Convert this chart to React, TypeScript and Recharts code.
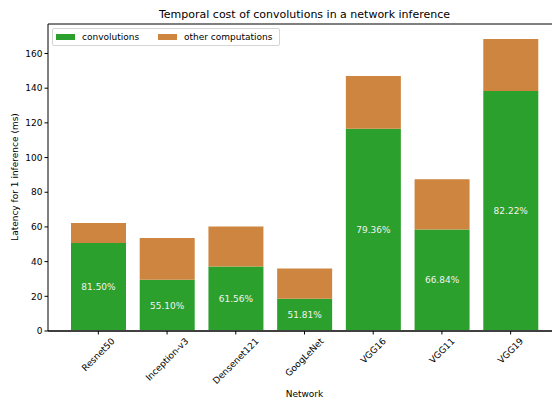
import { Bar, BarChart, LabelList, ReferenceLine, XAxis, YAxis } from "recharts";

const networks = [
  "Resnet50",
  "Inception-v3",
  "Densenet121",
  "GoogLeNet",
  "VGG16",
  "VGG11",
  "VGG19",
];
// total latency per inference (ms)
const totalLatency = [62.2, 53.6, 60.3, 36.0, 147.0, 87.5, 168.3];
// share of that latency spent in convolutions (%)
const convShare = [81.5, 55.1, 61.56, 51.81, 79.36, 66.84, 82.22];
const yTicks = [0, 20, 40, 60, 80, 100, 120, 140, 160];

const data = networks.map((name, i) => {
  const conv = (totalLatency[i] * convShare[i]) / 100;
  return {
    name,
    conv,
    other: totalLatency[i] - conv,
    share: `${convShare[i].toFixed(2)}%`,
  };
});

const FONT = "'DejaVu Sans', sans-serif";
const Y_MAX = 177;

let ctx: CanvasRenderingContext2D | null = null;
function textWidth(s: string, size: number) {
  if (!ctx) ctx = document.createElement("canvas").getContext("2d");
  if (!ctx) return s.length * size * 0.6;
  ctx.font = `${size}px 'DejaVu Sans'`;
  return ctx.measureText(s).width;
}

// rotated 45°, centred horizontally under the tick like matplotlib's ha="center"
function NetworkTick({ x, y, payload }: any) {
  const w = textWidth(payload.value, 9);
  const half = ((w + 9) * Math.SQRT1_2) / 2;
  const cy = y + half;
  return (
    <text
      x={x}
      y={cy}
      transform={`rotate(-45 ${x} ${cy})`}
      textAnchor="middle"
      dominantBaseline="central"
      fontSize={9}
      fontFamily={FONT}
      fill="#000"
    >
      {payload.value}
    </text>
  );
}

function LegendBox() {
  const item = (color: string, label: string, left: number) => (
    <div style={{ position: "absolute", left, top: 0, display: "flex", alignItems: "center", height: 16 }}>
      <div style={{ width: 19, height: 6.5, background: color }} />
      <span style={{ marginLeft: 7, fontSize: 9, whiteSpace: "nowrap" }}>{label}</span>
    </div>
  );
  return (
    <div
      style={{
        position: "absolute",
        left: 52,
        top: 28,
        width: 226,
        height: 16,
        border: "1px solid #d5d5d5",
        borderRadius: 2,
        background: "rgba(255,255,255,0.8)",
        fontFamily: FONT,
      }}
    >
      {item("#2ca02c", "convolutions", 3)}
      {item("#cd853f", "other computations", 105)}
    </div>
  );
}

export default function App() {
  return (
    <div
      style={{
        position: "absolute",
        left: 0,
        top: 0,
        width: 552,
        height: 400,
        overflow: "hidden",
        background: "#fff",
        fontFamily: FONT,
        color: "#000",
      }}
    >
      <div
        style={{
          position: "absolute",
          left: 48,
          width: 513,
          top: 8,
          textAlign: "center",
          fontSize: 11,
          whiteSpace: "nowrap",
        }}
      >
        Temporal cost of convolutions in a network inference
      </div>
      <div
        style={{
          position: "absolute",
          left: 15,
          top: 177,
          transform: "translate(-50%, -50%) rotate(-90deg)",
          fontSize: 9,
          whiteSpace: "nowrap",
        }}
      >
        Latency for 1 inference (ms)
      </div>
      <div
        style={{
          position: "absolute",
          left: 48,
          width: 513,
          top: 389,
          textAlign: "center",
          fontSize: 9,
        }}
      >
        Network
      </div>

      <BarChart
        width={580}
        height={400}
        data={data}
        margin={{ top: 24, right: 19, bottom: 9, left: 8 }}
        barSize={55}
      >
        <XAxis
          dataKey="name"
          height={60}
          padding={{ left: 16, right: 16 }}
          axisLine={{ stroke: "#000" }}
          tickLine={{ stroke: "#000" }}
          tickSize={3.5}
          tickMargin={2}
          interval={0}
          tick={<NetworkTick />}
        />
        <YAxis
          width={40}
          domain={[0, Y_MAX]}
          ticks={yTicks}
          allowDataOverflow
          axisLine={{ stroke: "#000" }}
          tickLine={{ stroke: "#000" }}
          tickSize={3.5}
          tickMargin={2}
          tick={{ fontSize: 9, fill: "#000", fontFamily: FONT }}
        />
        <Bar dataKey="conv" stackId="t" fill="#2ca02c" isAnimationActive={false}>
          <LabelList
            dataKey="share"
            position="center"
            fill="#f2f2f2"
            fontSize={9}
            fontFamily={FONT}
          />
        </Bar>
        <Bar dataKey="other" stackId="t" fill="#cd853f" isAnimationActive={false} />
        <ReferenceLine y={0} stroke="#808080" strokeWidth={2} />
        <ReferenceLine y={Y_MAX} stroke="#000" strokeWidth={1} />
      </BarChart>

      <LegendBox />
    </div>
  );
}
